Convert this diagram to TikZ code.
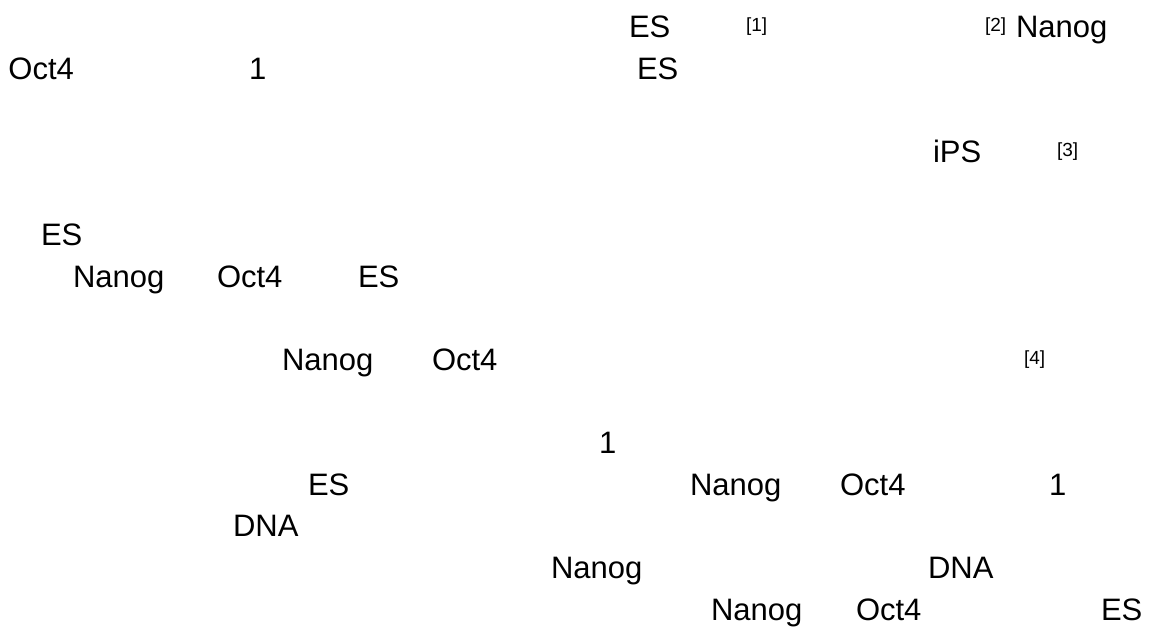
\documentclass[tikz,border=0pt]{standalone}
\usepackage{fontspec}
\setmainfont{Liberation Sans}
\begin{document}
\begin{tikzpicture}[x=1pt,y=-1pt,
  word/.style={anchor=base west,inner sep=0pt,outer sep=0pt,
    font=\fontsize{31}{31}\selectfont},
  cite/.style={anchor=base west,inner sep=0pt,outer sep=0pt,
    font=\fontsize{19}{19}\selectfont}]
\useasboundingbox[fill=white] (0,0) rectangle (1150,630);
% line baselines
\def\lA{37}\def\lB{79}\def\lD{162}\def\lF{245}\def\lG{287}
\def\lI{370}\def\lK{453.4}\def\lL{495}\def\lM{536.7}\def\lN{578.3}\def\lO{620}
% first line
\node[word] (es1) at (629,\lA) {ES};
\node[cite] (c1) at (746,\lA-6) {[1]};
\node[cite] (c2) at (985,\lA-6) {[2]};
\node[word] (nanog1) at (1016,\lA) {Nanog};
% second line
\node[word] (oct1) at (8.5,\lB) {Oct4};
\node[word] (one1) at (249,\lB) {1};
\node[word] (es2) at (637,\lB) {ES};
% iPS
\node[word] (ips) at (933,\lD) {iPS};
\node[cite] (c3) at (1057,\lD-6) {[3]};
% ES paragraph
\node[word] (es3) at (41,\lF) {ES};
\node[word] (nanog2) at (73,\lG) {Nanog};
\node[word] (oct2) at (217,\lG) {Oct4};
\node[word] (es4) at (358,\lG) {ES};
\node[word] (nanog3) at (282,\lI) {Nanog};
\node[word] (oct3) at (432,\lI) {Oct4};
\node[cite] (c4) at (1024,\lI-6) {[4]};
% lower paragraph
\node[word] (one2) at (599,\lK) {1};
\node[word] (es5) at (308,\lL) {ES};
\node[word] (nanog4) at (690,\lL) {Nanog};
\node[word] (oct4) at (840,\lL) {Oct4};
\node[word] (one3) at (1049,\lL) {1};
\node[word] (dna1) at (233,\lM) {DNA};
\node[word] (nanog5) at (551,\lN) {Nanog};
\node[word] (dna2) at (928,\lN) {DNA};
\node[word] (nanog6) at (711,\lO) {Nanog};
\node[word] (oct5) at (856,\lO) {Oct4};
\node[word] (es6) at (1101,\lO) {ES};
\end{tikzpicture}
\end{document}
